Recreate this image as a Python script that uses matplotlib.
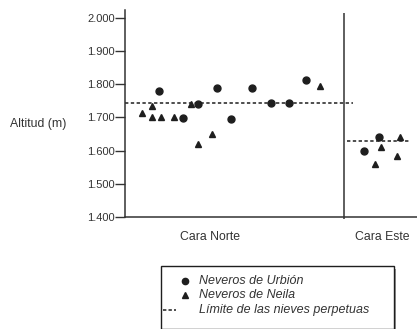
import matplotlib.pyplot as plt
from matplotlib.lines import Line2D
from matplotlib.patches import Rectangle
from matplotlib.ticker import FuncFormatter

plt.rcParams['font.family'] = ['Liberation Sans', 'DejaVu Sans']

# posiciones horizontales (unidades del eje) y altitudes
urbion_x = [34, 58, 73, 92, 106, 127, 146, 164, 181, 239, 254]
urbion_y = [1780, 1697, 1742, 1790, 1695, 1790, 1745, 1745, 1813, 1600, 1641]
neila_x = [17, 27, 27, 36, 49, 66, 73, 87, 195, 250, 256, 275, 272]
neila_y = [1715, 1735, 1700, 1700, 1700, 1740, 1620, 1650, 1795, 1560, 1610, 1640, 1585]

limite_norte = 1745
limite_este = 1628
norte_rango = [0, 228]
este_rango = [222, 285]
separador = 219

categorias = ['Cara Norte', 'Cara Este']
cat_pos = [85, 257]
yticks = [1400, 1500, 1600, 1700, 1800, 1900, 2000]
leyenda = ['Neveros de Urbión', 'Neveros de Neila', 'Límite de las nieves perpetuas']

W, H = 417, 329
fig = plt.figure(figsize=(W / 100, H / 100), dpi=100)
ax = fig.add_axes([125 / W, 1 - 217 / H, 292 / W, 207 / H])

col = '#1e1e1e'
gris = '#333333'
dash = (0, (2.2, 1.6))
ax.plot(urbion_x, urbion_y, 'o', color=col, markersize=5, linestyle='none')
ax.plot(neila_x, neila_y, '^', color=col, markersize=5, linestyle='none')
ax.plot(norte_rango, [limite_norte] * 2, color=col, linestyle=dash, linewidth=1.1)
ax.plot(este_rango, [limite_este] * 2, color=col, linestyle=dash, linewidth=1.1)
ax.vlines(separador, 1393, 2014, color=gris, linewidth=1.1, clip_on=False)

ax.set_xlim(0, 292)
ax.set_ylim(1400, 2024)
ax.set_yticks(yticks)
ax.yaxis.set_major_formatter(FuncFormatter(lambda v, p: f'{int(v):,}'.replace(',', '.')))
ax.set_xticks(cat_pos, categorias)
ax.tick_params(axis='x', length=0, pad=10, labelsize=8.8, labelcolor=gris)
ax.tick_params(axis='y', length=7, width=1, color=gris, labelsize=8, labelcolor=gris, pad=0.5)

for s in ['top', 'right']:
    ax.spines[s].set_visible(False)
for s in ['left', 'bottom']:
    ax.spines[s].set_color(gris)
    ax.spines[s].set_linewidth(1.1)

fig.text(10 / W, 1 - 124 / H, 'Altitud (m)', fontsize=8.8, color=gris, ha='left', va='center')

# leyenda dibujada a mano, como en el original
def fx(px):
    return px / W

def fy(py):
    return 1 - py / H

fig.patches.append(Rectangle((fx(164), fy(331)), fx(396) - fx(164), fy(269) - fy(331),
                             transform=fig.transFigure, facecolor='#999999', edgecolor='none'))
fig.patches.append(Rectangle((fx(161), fy(329)), fx(394) - fx(161), fy(266) - fy(329),
                             transform=fig.transFigure, facecolor='white', edgecolor=col, linewidth=1.0))
filas = [281, 295, 310]
fig.add_artist(Line2D([fx(185)], [fy(filas[0])], marker='o', color=col, markersize=4.5,
                      transform=fig.transFigure))
fig.add_artist(Line2D([fx(185)], [fy(filas[1])], marker='^', color=col, markersize=4.5,
                      transform=fig.transFigure))
fig.add_artist(Line2D([fx(163), fx(176)], [fy(filas[2])] * 2, color=col, linestyle=(0, (2.2, 1.4)),
                      linewidth=1.1, transform=fig.transFigure))
for texto, py in zip(leyenda, filas):
    fig.text(fx(199), fy(py), texto, fontsize=9, style='italic', color=gris, ha='left', va='center')

fig.savefig('out.png', dpi=100)
